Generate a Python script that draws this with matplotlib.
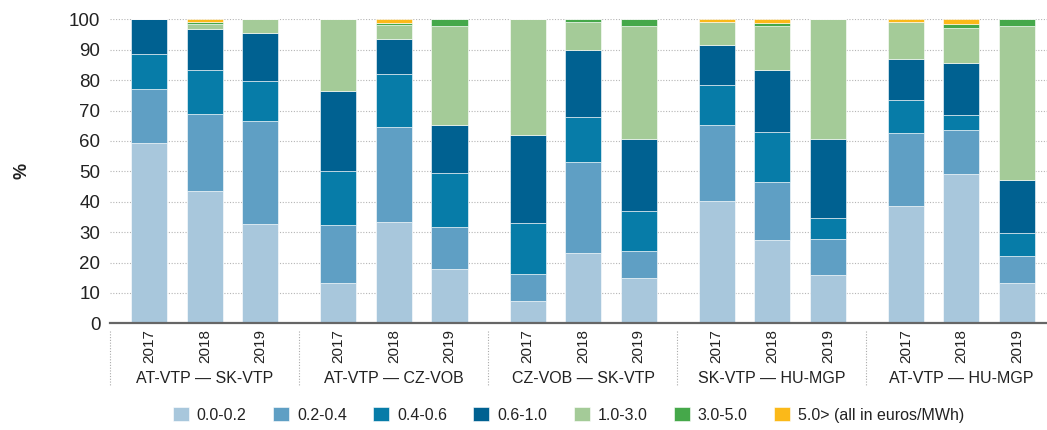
import matplotlib
matplotlib.use("Agg")
import matplotlib.pyplot as plt
from matplotlib import font_manager
import matplotlib.transforms as mtransforms
import numpy as np

names = {f.name for f in font_manager.fontManager.ttflist}
FONT = "Liberation Sans Narrow" if "Liberation Sans Narrow" in names else "Liberation Sans"
plt.rcParams["font.family"] = [FONT, "DejaVu Sans"]

groups = ["AT-VTP — SK-VTP", "AT-VTP — CZ-VOB", "CZ-VOB — SK-VTP",
          "SK-VTP — HU-MGP", "AT-VTP — HU-MGP"]
years = ["2017", "2018", "2019"]
bands = ["0.0-0.2", "0.2-0.4", "0.4-0.6", "0.6-1.0", "1.0-3.0", "3.0-5.0",
         "5.0> (all in euros/MWh)"]
colors = ["#a8c7dc", "#5f9fc4", "#077ca8", "#006191", "#a4cb98", "#45a84a", "#fbb919"]

# share (%) of each price band, per bar (group x year), 15 bars in order
b00_02 = [59.2, 43.5, 32.6, 13.3, 33.4, 17.8, 7.4, 23.0, 14.8, 40.3, 27.5, 15.9, 38.5, 49.2, 13.3]
b02_04 = [17.9, 25.3, 33.8, 19.2, 31.1, 13.8, 8.8, 30.0, 9.0, 25.1, 18.9, 11.8, 24.0, 14.4, 8.8]
b04_06 = [11.4, 14.4, 13.4, 17.6, 17.4, 17.7, 16.8, 14.8, 13.0, 13.1, 16.7, 6.8, 11.0, 4.8, 7.6]
b06_10 = [11.5, 13.5, 15.7, 26.3, 11.8, 15.9, 28.9, 22.1, 23.7, 13.2, 20.1, 26.0, 13.4, 17.4, 17.3]
b10_30 = [0.0, 1.7, 4.5, 23.6, 4.3, 32.7, 38.1, 9.1, 37.2, 7.3, 14.7, 39.5, 12.2, 11.3, 50.9]
b30_50 = [0.0, 0.6, 0.0, 0.0, 0.8, 2.1, 0.0, 1.0, 2.3, 0.0, 0.8, 0.0, 0.0, 1.4, 2.1]
b50_up = [0.0, 1.0, 0.0, 0.0, 1.2, 0.0, 0.0, 0.0, 0.0, 1.0, 1.3, 0.0, 0.9, 1.5, 0.0]
series = [b00_02, b02_04, b04_06, b06_10, b10_30, b30_50, b50_up]

fig = plt.figure(figsize=(10.47, 4.30), dpi=100)
ax = fig.add_axes([110 / 1047, 0.248, 1 - 110 / 1047, 0.707])

G = 3.405
xs = np.array([g * G + i for g in range(len(groups)) for i in range(len(years))])
bottom = np.zeros(len(xs))
handles = []
for vals, c, lab in zip(series, colors, bands):
    v = np.array(vals)
    h = ax.bar(xs, v, width=0.65, bottom=bottom, color=c, edgecolor="#ffffff",
               linewidth=0.4, label=lab, zorder=3)
    handles.append(h)
    bottom += v

ax.set_ylim(0, 100)
ax.set_xlim(-0.708, -0.708 + 936.3 / 55.5)
ax.set_yticks(range(0, 101, 10))
ax.yaxis.grid(True, linestyle=(0, (1, 1.5)), color="#b5b5b5", linewidth=0.8, zorder=0)
ax.set_axisbelow(True)
for s in ["left", "right", "top"]:
    ax.spines[s].set_visible(False)
ax.spines["bottom"].set_color("#666666")
ax.spines["bottom"].set_linewidth(1.6)
ax.spines["bottom"].set_zorder(5)
ax.tick_params(axis="y", length=0, pad=7, labelsize=13.5, labelcolor="#222222")
ax.set_xticks(xs)
ax.set_xticklabels(years * len(groups), rotation=90)
ax.tick_params(axis="x", length=0, pad=4, labelsize=11, labelcolor="#222222")

ax.set_ylabel("%", fontsize=13, fontweight="bold", labelpad=28, color="#222222")

trans = mtransforms.blended_transform_factory(ax.transData, ax.transAxes)
for g in range(len(groups) + 1):
    xd = g * G - 0.708
    ax.plot([xd, xd], [-0.024, -0.204], transform=trans, clip_on=False,
            color="#aaaaaa", linestyle=(0, (1, 1.5)), linewidth=0.8)
for g, name in enumerate(groups):
    ax.text(g * G + 1, -0.18, name, transform=trans, ha="center", va="center",
            fontsize=11.5, color="#222222")

fig.legend(handles=handles, labels=bands, loc="center", bbox_to_anchor=(0.543, 0.035),
           ncol=7, frameon=False, fontsize=11.5, handlelength=1.0, handleheight=1.0,
           handletextpad=0.5, columnspacing=1.65, labelcolor="#222222")

fig.savefig("out.png", dpi=100)
